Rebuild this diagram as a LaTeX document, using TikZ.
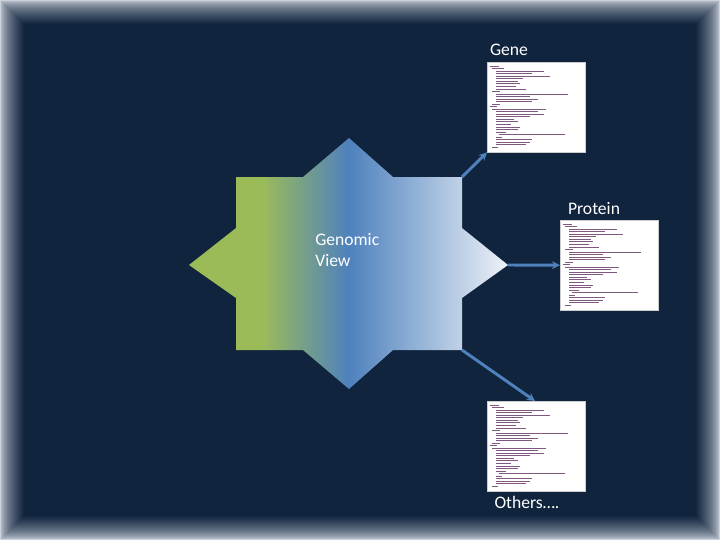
\documentclass[tikz,border=0pt]{standalone}
\usepackage{fontspec}
\setmainfont{Carlito}
\usetikzlibrary{arrows.meta}
\definecolor{navy}{RGB}{16,36,62}
\definecolor{edge}{RGB}{205,210,220}
\definecolor{sblue}{RGB}{79,129,189}
\definecolor{sgreen}{RGB}{155,187,89}
\definecolor{swhite}{RGB}{238,242,248}
\pgfdeclarehorizontalshading{starshade}{100bp}{color(0bp)=(sgreen); color(36.5bp)=(sgreen); color(50bp)=(sblue); color(75bp)=(swhite); color(100bp)=(swhite)}
\tikzset{
  lbl/.style={text=white,font=\fontsize{13.2}{15.5}\selectfont,inner sep=0pt},
  doc/.style={fill=white,draw=gray!40,line width=0.3pt,minimum width=73.5pt,minimum height=67.5pt,inner sep=0pt},
  conn/.style={draw=sblue,line width=2.2pt,-{Stealth[length=6pt,width=6pt]}},
}
\newcommand{\doclines}[1]{%
  \foreach \i/\ind/\len in {0/2/8,1/4/10,2/7/40,3/7/30,4/7/45,5/7/22,6/7/18,7/7/20,8/7/16,9/7/25,10/4/6,11/7/60,12/7/28,13/7/35,14/7/30,15/4/6,16/2/6,17/4/45,18/7/35,19/7/40,20/7/28,21/7/15,22/7/18,23/7/12,24/7/20,25/7/18,26/7/8,27/9/55,28/7/5,29/7/30,30/7/28,31/7/25,32/4/5}{
    \draw[gray!70!violet,line width=0.45pt] ([xshift=\ind pt,yshift=-3pt-\i*1.9pt]#1.north west) -- ++(\len*0.9pt,0);
  }}
\begin{document}
\begin{tikzpicture}[x=0.75pt,y=-0.75pt]
\useasboundingbox (0,0) rectangle (720,540);
\fill[edge] (0,0) rectangle (720,540);
\foreach \k in {0,...,24}{
  \pgfmathsetmacro{\m}{100*(\k/24)^0.6}
  \fill[navy!\m!edge] (\k,\k) rectangle (720-\k,540-\k);
}
\fill[navy] (25,25) rectangle (695,515);
% star
\begin{scope}
\clip (236,177) -- (303,177) -- (349,138) -- (393,177) -- (462,177) -- (462,228) -- (508,265)
 -- (462,298) -- (462,350) -- (393,350) -- (349,389) -- (303,350) -- (236,350) -- (236,298)
 -- (189,265) -- (236,228) -- cycle;
\shade[shading=starshade] (189,130) rectangle (508,395);
\end{scope}
\coordinate (sUR) at (462,177);
\coordinate (sR) at (508,265);
\coordinate (sLR) at (462,350);
\node[lbl,anchor=north west,align=left] (gv) at (315,233) {Genomic\\View};
% docs
\node[doc,anchor=north west] (gene) at (487,62) {};
\node[doc,anchor=north west] (prot) at (560,220) {};
\node[doc,anchor=north west] (oth) at (487,401) {};
\doclines{gene}\doclines{prot}\doclines{oth}
\node[lbl,anchor=south] (lg) at (509,56) {Gene};
\node[lbl,anchor=south] (lp) at (594,215) {Protein};
\node[lbl,anchor=north] (lo) at (527,496) {Others….};
\draw[conn] (sUR) -- (gene.south west);
\draw[conn] (sR) -- (prot.west);
\draw[conn] (sLR) -- ([xshift=48pt*0.75]oth.north west);
\end{tikzpicture}
\end{document}
